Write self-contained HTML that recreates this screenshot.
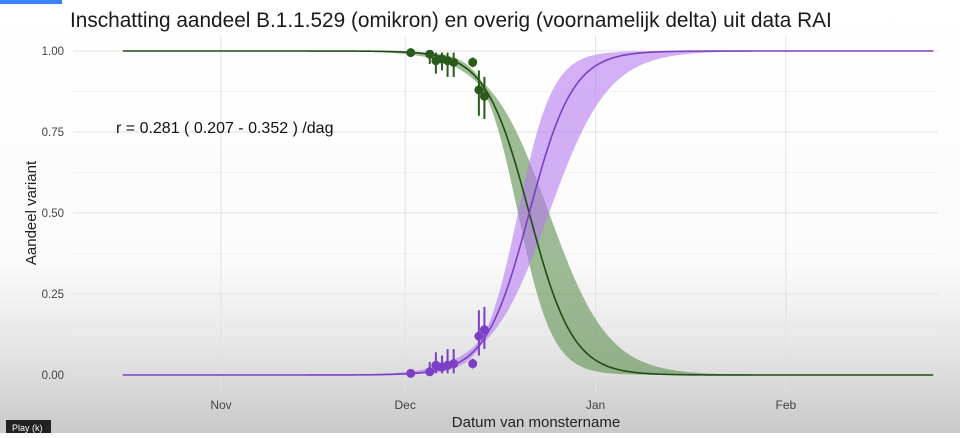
<!DOCTYPE html>
<html><head><meta charset="utf-8"><style>
html,body{margin:0;padding:0;}
body{width:960px;height:433px;overflow:hidden;font-family:"Liberation Sans",sans-serif;}
</style></head><body>
<svg id="chart" width="960" height="433" viewBox="0 0 960 433" xmlns="http://www.w3.org/2000/svg">
<defs><linearGradient id="bg" x1="0" y1="0" x2="0" y2="1">
<stop offset="0" stop-color="#ffffff"/><stop offset="0.6" stop-color="#fbfbfb"/><stop offset="0.8" stop-color="#e6e6e6"/><stop offset="1" stop-color="#c9c9c9"/></linearGradient></defs>
<rect width="960" height="433" fill="url(#bg)"/>
<rect x="0" y="0" width="62" height="4" fill="#3b82f6"/>
<text x="70" y="27" font-size="20.8" fill="#1a1a1a">Inschatting aandeel B.1.1.529 (omikron) en overig (voornamelijk delta) uit data RAI</text>
<g id="grid"></g>
<g id="bands"></g>
<g id="lines"></g>
<g id="points"></g>
<text x="116" y="133" font-size="16" fill="#111">r =  0.281 ( 0.207 - 0.352 ) /dag</text>
<text x="0" y="0" font-size="15" fill="#222" transform="translate(36,213) rotate(-90)" text-anchor="middle">Aandeel variant</text>
<text x="536" y="427" font-size="15" fill="#222" text-anchor="middle">Datum van monstername</text>
<rect x="6" y="420" width="45" height="13" fill="#222"/>
<text x="12" y="431" font-size="9" fill="#fff">Play (k)</text>
</svg>
<script>
const xTickLabels = ["Nov","Dec","Jan","Feb"];
const xTickDays = [0,30,61,92];
const yTicks = [0,0.25,0.5,0.75,1];
const yTickLabels = ["0.00","0.25","0.50","0.75","1.00"];
const obsDays = [30.9,34.0,35.0,36.0,36.9,37.9,41.0,42.0,42.9];
const deltaShare = [0.995,0.99,0.97,0.975,0.97,0.965,0.965,0.88,0.86];
const errLow = [0.985,0.96,0.93,0.94,0.92,0.92,0.95,0.8,0.79];
const errHigh = [1.0,1.0,0.995,0.995,0.995,0.995,0.98,0.94,0.92];
const rate = 0.281, rateLow = 0.207, rateHigh = 0.352, midDay = 50.2;
const startDay = -16, endDay = 116;

const NS="http://www.w3.org/2000/svg";
const X = d => 221 + d*6.14;
const Y = p => 375 - p*324;
const L = 73, R = 938, T = 35, B = 392;
function mk(tag, attrs, parent){const e=document.createElementNS(NS,tag);for(const k in attrs)e.setAttribute(k,attrs[k]);parent.appendChild(e);return e;}
const grid=document.getElementById('grid');
for(let i=0;i<yTicks.length;i++){
  const l=mk('line',{x1:L,x2:R,y1:Y(yTicks[i]),y2:Y(yTicks[i]),stroke:'#e2e2e2','stroke-width':1},grid);
  
  
  if(i<yTicks.length-1){const m=mk('line',{x1:L,x2:R,y1:Y((yTicks[i]+yTicks[i+1])/2),y2:Y((yTicks[i]+yTicks[i+1])/2),stroke:'#efefef','stroke-width':0.8},grid);
  
  }
  const t=mk('text',{x:64,y:Y(yTicks[i])+4,'font-size':11.5,fill:'#444','text-anchor':'end'},grid);
  t.textContent=yTickLabels[i];
  
  
}
for(let i=0;i<xTickDays.length;i++){
  const l=mk('line',{x1:X(xTickDays[i]),x2:X(xTickDays[i]),y1:T,y2:B,stroke:'#e2e2e2','stroke-width':1},grid);
  
  
  const t=mk('text',{x:X(xTickDays[i]),y:409,'font-size':12,fill:'#444','text-anchor':'middle'},grid);
  t.textContent=xTickLabels[i];
  
  
}
const lg=p=>1/(1+Math.exp(-p));
const pivot=42.5, a0=rate*(pivot-midDay);
function band(d){const v=[];for(const r of [rateLow,rateHigh])for(const a of [a0-0.1,a0+0.1])v.push(lg(a+r*(d-pivot)));return [Math.min(...v),Math.max(...v)];}
let up=[],lo=[],cp=[],cg=[],gu=[],gl=[];
for(let d=startDay;d<=endDay;d+=0.25){
  const b=band(d),p=lg(rate*(d-midDay));
  up.push(X(d)+','+Y(b[1]));lo.unshift(X(d)+','+Y(b[0]));
  gu.push(X(d)+','+Y(1-b[0]));gl.unshift(X(d)+','+Y(1-b[1]));
  cp.push(X(d)+','+Y(p));cg.push(X(d)+','+Y(1-p));
}
const bands=document.getElementById('bands'),lines=document.getElementById('lines');
const bg=mk('polygon',{points:gu.concat(gl).join(' '),fill:'#5e8f4e','fill-opacity':0.6},bands);


const bp=mk('polygon',{points:up.concat(lo).join(' '),fill:'#b57af0','fill-opacity':0.6},bands);


const lgn=mk('polyline',{points:cg.join(' '),fill:'none',stroke:'#1f4d14','stroke-width':1.6},lines);


const lpn=mk('polyline',{points:cp.join(' '),fill:'none',stroke:'#7a3fc4','stroke-width':1.6},lines);


const pts=document.getElementById('points');
for(let i=0;i<obsDays.length;i++){
  const x=X(obsDays[i]);
  const e1=mk('line',{x1:x,x2:x,y1:Y(errLow[i]),y2:Y(errHigh[i]),stroke:'#2a5a1a','stroke-width':2},pts);
  
  
  const c1=mk('circle',{cx:x,cy:Y(deltaShare[i]),r:4.5,fill:'#2a5a1a'},pts);
  
  
  const e2=mk('line',{x1:x,x2:x,y1:Y(1-errLow[i]),y2:Y(1-errHigh[i]),stroke:'#7a3fc4','stroke-width':2},pts);
  
  
  const c2=mk('circle',{cx:x,cy:Y(1-deltaShare[i]),r:4.5,fill:'#7a3fc4'},pts);
  
  
}
</script>
</body></html>
